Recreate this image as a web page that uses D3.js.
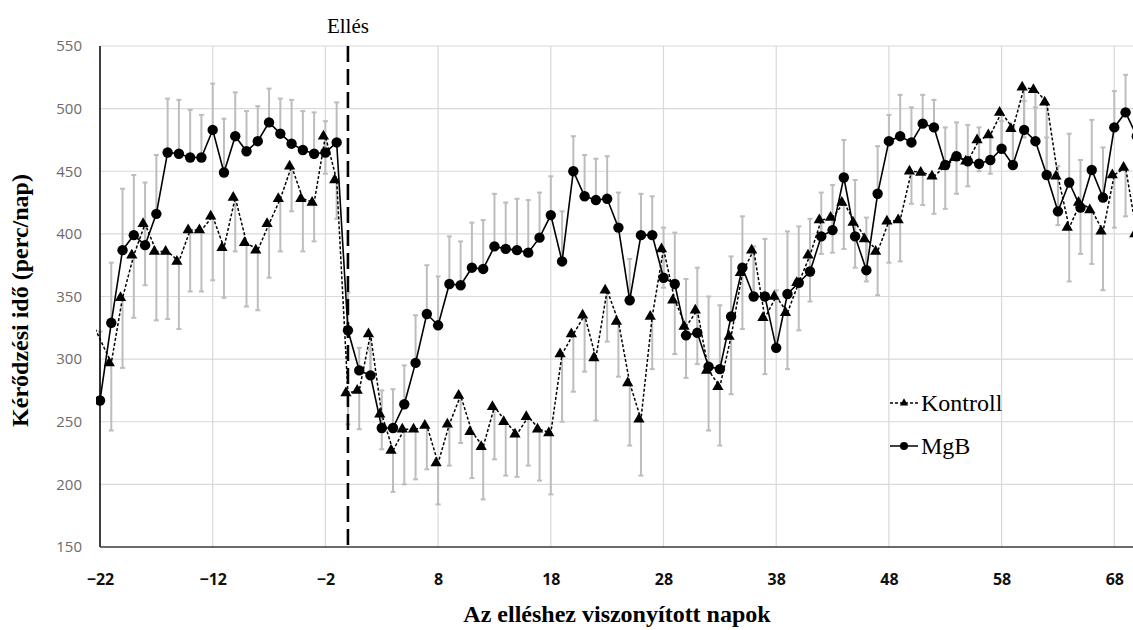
<!DOCTYPE html>
<html>
<head>
<meta charset="utf-8">
<script src="https://cdn.jsdelivr.net/npm/d3@7"></script>
<style>
  html, body { margin: 0; padding: 0; background: #fff; }
  svg { display: block; }
  .serif { font-family: 'Liberation Serif', 'Times New Roman', serif; }
</style>
</head>
<body>
<div id="app"></div>
<script>
// days relative to calving (-23 is off the plot, only its line piece shows)
const days = d3.range(-23, 71)

const mgb = [
  null, 267, 329, 387, 399, 391, 416, 465, 464, 461,
  461, 483, 449, 478, 466, 474, 489, 480, 472, 467,
  464, 465, 473, 323, 291, 287, 245, 245, 264, 297,
  336, 327, 360, 359, 373, 372, 390, 388, 387, 385,
  397, 415, 378, 450, 430, 427, 428, 405, 347, 399,
  399, 365, 360, 319, 321, 294, 292, 334, 373, 350,
  350, 309, 352, 361, 370, 398, 403, 445, 398, 371,
  432, 474, 478, 473, 488, 485, 455, 462, 458, 456,
  459, 468, 455, 483, 474, 447, 418, 441, 421, 451,
  429, 485, 497, 478
]
const mgbErr = [
  null, 55, 48, 49, 48, 50, 47, 43, 43, 38,
  34, 37, 43, 35, 32, 28, 27, 28, 35, 31,
  33, 25, 32, 30, 18, 20, 30, 31, 31, 38,
  39, 39, 38, 35, 36, 39, 42, 37, 41, 42,
  36, 31, 40, 28, 33, 33, 34, 28, 33, 33,
  31, 40, 41, 45, 52, 56, 51, 48, 41, 40,
  46, 46, 50, 45, 42, 35, 36, 30, 45, 42,
  38, 21, 33, 28, 23, 22, 30, 27, 29, 29,
  20, 22, 30, 23, 27, 30, 36, 39, 38, 40,
  40, 29, 30, 30
]
const kontroll = [
  335, null, 297, 349, 383, 408, 386, 386, 378, 403,
  403, 414, 389, 429, 393, 387, 408, 428, 454, 428,
  425, 478, 443, 273, 275, 320, 256, 227, 244, 244,
  247, 217, 248, 271, 242, 230, 262, 250, 240, 254,
  244, 241, 304, 320, 335, 301, 355, 330, 281, 252,
  334, 388, 347, 326, 339, 291, 278, 318, 369, 387,
  333, 350, 337, 361, 383, 411, 413, 425, 409, 396,
  386, 410, 411, 450, 449, 446, 454, 461, 458, 475,
  479, 497, 484, 517, 515, 505, 446, 405, 425, 419,
  402, 447, 453, 400
]
const kontrollErr = [
  20, null, 54, 56, 50, 49, 55, 54, 54, 49,
  49, 51, 40, 43, 51, 48, 43, 42, 36, 42,
  31, 30, 31, 25, 31, 30, 28, 33, 44, 40,
  35, 33, 33, 38, 37, 42, 42, 43, 34, 39,
  41, 49, 54, 46, 45, 50, 41, 44, 50, 45,
  42, 31, 43, 41, 43, 48, 47, 46, 45, 35,
  45, 40, 45, 38, 37, 27, 28, 37, 36, 34,
  35, 33, 33, 26, 26, 30, 34, 29, 20, 25,
  31, 30, 26, 40, 40, 55, 39, 43, 41, 43,
  47, 42, 39, 40
]

const xTicks = [-22, -12, -2, 8, 18, 28, 38, 48, 58, 68]
const yTicks = [150, 200, 250, 300, 350, 400, 450, 500, 550]
const calvingDay = 0

const width = 1133
const height = 630
const plotLeft = 100
const plotTop = 46
const plotBottom = 547

const x = d3.scaleLinear().domain([-22, 70]).range([plotLeft, plotLeft + 92 * 11.27])
const y = d3.scaleLinear().domain([150, 550]).range([plotBottom, plotTop])

const svg = d3.select('#app').append('svg')
  .attr('width', width)
  .attr('height', height)

svg.append('defs').append('clipPath').attr('id', 'plot')
  .append('rect')
  .attr('x', 96).attr('y', 0)
  .attr('width', width - 96).attr('height', plotBottom + 10)

// grid
svg.append('g')
  .selectAll('line')
  .data(yTicks.slice(1))
  .join('line')
  .attr('x1', plotLeft).attr('x2', width)
  .attr('y1', d => y(d)).attr('y2', d => y(d))
  .attr('stroke', '#d9d9d9').attr('stroke-width', 1.2)

svg.append('g')
  .selectAll('line')
  .data(xTicks.slice(1))
  .join('line')
  .attr('x1', d => x(d)).attr('x2', d => x(d))
  .attr('y1', plotTop).attr('y2', plotBottom)
  .attr('stroke', '#d9d9d9').attr('stroke-width', 1.2)

// y axis labels
svg.append('g')
  .attr('transform', `translate(${plotLeft},0)`)
  .call(d3.axisLeft(y).tickValues(yTicks).tickSize(0).tickPadding(18))
  .call(g => g.select('.domain').remove())
  .selectAll('text')
  .attr('font-family', 'Open Sans, sans-serif')
  .attr('font-size', 15)
  .attr('fill', '#6b6b6b')

// x axis labels
svg.append('g')
  .attr('transform', `translate(0,${plotBottom})`)
  .call(d3.axisBottom(x).tickValues(xTicks).tickSize(0).tickPadding(27))
  .call(g => g.select('.domain').remove())
  .selectAll('text')
  .attr('font-family', 'Open Sans, sans-serif')
  .attr('font-weight', 'bold')
  .attr('font-size', 16)
  .attr('fill', '#111')

const rows = days.map((d, i) => ({
  day: d,
  m: mgb[i], mErr: mgbErr[i],
  k: kontroll[i], kErr: kontrollErr[i]
}))
const mRows = rows.filter(r => r.m != null)
const kRows = rows.filter(r => r.k != null)

const plot = svg.append('g').attr('clip-path', 'url(#plot)')

// error bars: MgB upward, Kontroll downward
const errColor = '#bdbdbd'
function bars(data, val, err, dir) {
  const g = plot.append('g').attr('stroke', errColor).attr('stroke-width', 2)
  g.selectAll('line.v').data(data).join('line').attr('class', 'v')
    .attr('x1', d => x(d.day)).attr('x2', d => x(d.day))
    .attr('y1', d => y(val(d))).attr('y2', d => y(val(d) + dir * err(d)))
  g.selectAll('line.c').data(data).join('line').attr('class', 'c')
    .attr('x1', d => x(d.day) - 2.5).attr('x2', d => x(d.day) + 2.5)
    .attr('y1', d => y(val(d) + dir * err(d))).attr('y2', d => y(val(d) + dir * err(d)))
}
bars(mRows, d => d.m, d => d.mErr, 1)
bars(kRows, d => d.k, d => d.kErr, -1)

// axis lines
svg.append('line')
  .attr('x1', plotLeft).attr('x2', plotLeft).attr('y1', plotTop).attr('y2', plotBottom)
  .attr('stroke', '#000').attr('stroke-width', 1.5)
svg.append('line')
  .attr('x1', plotLeft).attr('x2', width).attr('y1', plotBottom).attr('y2', plotBottom)
  .attr('stroke', '#3a3a3a').attr('stroke-width', 1.5)

// calving marker
svg.append('line')
  .attr('x1', x(calvingDay)).attr('x2', x(calvingDay))
  .attr('y1', plotTop).attr('y2', plotBottom)
  .attr('stroke', '#000').attr('stroke-width', 2.6)
  .attr('stroke-dasharray', '16,7')
svg.append('text')
  .attr('class', 'serif')
  .attr('x', x(calvingDay)).attr('y', 33)
  .attr('text-anchor', 'middle')
  .attr('font-size', 21)
  .text('Ellés')

// lines
const line = d3.line().x(d => x(d.day))
plot.append('path')
  .datum(kRows)
  .attr('d', line.y(d => y(d.k)))
  .attr('fill', 'none').attr('stroke', '#000').attr('stroke-width', 1.5)
  .attr('stroke-dasharray', '3,2')
plot.append('path')
  .datum(mRows)
  .attr('d', line.y(d => y(d.m)))
  .attr('fill', 'none').attr('stroke', '#000').attr('stroke-width', 1.6)

const tri = d3.symbol().type(d3.symbolTriangle).size(55)
plot.append('g')
  .selectAll('path')
  .data(kRows)
  .join('path')
  .attr('d', tri)
  .attr('transform', d => `translate(${x(d.day) - 2},${y(d.k)})`)
  .attr('fill', '#000')

plot.append('g')
  .selectAll('circle')
  .data(mRows)
  .join('circle')
  .attr('cx', d => x(d.day)).attr('cy', d => y(d.m))
  .attr('r', 5.2)
  .attr('fill', '#000')

// legend
const legend = svg.append('g').attr('class', 'serif').attr('font-size', 24)
legend.append('line')
  .attr('x1', 890).attr('x2', 918).attr('y1', 403).attr('y2', 403)
  .attr('stroke', '#000').attr('stroke-width', 1.3).attr('stroke-dasharray', '3,2')
legend.append('path').attr('d', d3.symbol().type(d3.symbolTriangle).size(30))
  .attr('transform', 'translate(904,403)')
legend.append('text').attr('x', 921).attr('y', 411).text('Kontroll')
legend.append('line')
  .attr('x1', 890).attr('x2', 918).attr('y1', 446).attr('y2', 446)
  .attr('stroke', '#000').attr('stroke-width', 1.5)
legend.append('circle').attr('cx', 904).attr('cy', 446).attr('r', 4)
legend.append('text').attr('x', 921).attr('y', 454).text('MgB')

// axis titles
svg.append('text')
  .attr('class', 'serif')
  .attr('transform', `translate(28,${(plotTop + plotBottom) / 2 + 4}) rotate(-90)`)
  .attr('text-anchor', 'middle')
  .attr('font-weight', 'bold')
  .attr('font-size', 24)
  .text('Kérődzési idő (perc/nap)')

svg.append('text')
  .attr('class', 'serif')
  .attr('x', 617).attr('y', 622)
  .attr('text-anchor', 'middle')
  .attr('font-weight', 'bold')
  .attr('font-size', 24)
  .text('Az elléshez viszonyított napok')
</script>
</body>
</html>
